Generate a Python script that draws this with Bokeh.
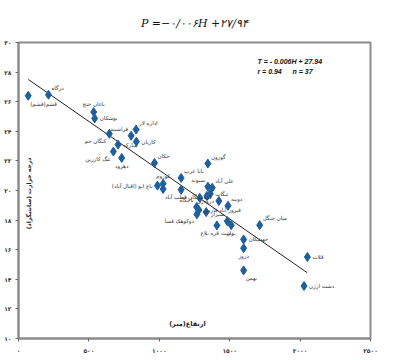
from bokeh.plotting import figure
from bokeh.models import ColumnDataSource, FixedTicker, Label
from bokeh.core.properties import value
from bokeh.embed import file_html
from bokeh.resources import INLINE
import math

# ---- data ----
stations = ["قشم(قشم)", "درگاه", "باغان خنج", "بوشکان", "کنگان جم", "مبارکه", "تنگ کارزین", "دهرود",
            "فراشبند", "اداره لار", "کاریان", "حکان", "گوزون", "بابا عرب", "کوزوم", "باغ ابو (اقبال آباد)",
            "کره بایگان قطب آباد", "", "سیوند", "علی آباد", "تنگاب", "", "", "درودزن", "دوبنه", "باجگاه",
            "فیروز آباد فارس", "", "دوکوهک فسا", "شیراز", "بزار", "دشت قره بلاغ", "جهشکان", "دروز",
            "میان جنگل", "بهمن", "قلات", "دشت ارژن"]
elevation = [69, 213, 534, 541, 645, 707, 674, 733,
             800, 835, 837, 966, 1345, 1155, 1027, 987,
             1027, 1155, 1345, 1376, 1362, 1338, 1288, 1423, 1488, 1265,
             1281, 1333, 1267, 1483, 1511, 1409, 1599, 1599,
             1713, 1599, 2052, 2028]
temperature = [26.4, 26.47, 25.3, 24.87, 23.83, 23.1, 22.63, 22.2,
               23.7, 24.12, 23.3, 21.86, 21.82, 20.85, 20.46, 20.33,
               20.1, 20.05, 20.26, 20.19, 19.78, 19.63, 19.5, 19.29, 18.97, 18.88,
               18.68, 18.54, 18.39, 17.93, 17.66, 17.64, 16.69, 16.1,
               17.66, 14.6, 15.51, 13.55]
trend_h = [70, 2050]
trend_t = [27.5, 14.45]
x_ticks = [0, 500, 1000, 1500, 2000, 2500]
y_ticks = [10, 12, 14, 16, 18, 20, 22, 24, 26, 28, 30]

# label placement (layout, not data)
placement = ["br", "tr", "t", "r", "bl", "r", "bl", "b",
             "tl", "tr", "r", "tr", "tr", "tr", "t", "l",
             "br", "r", "tl", "tr", "r", "r", "r", "l", "tr", "tl",
             "r", "r", "bl", "tl", "b", "b", "r", "b",
             "tr", "br", "r", "r"]

PD = str.maketrans("0123456789", "۰۱۲۳۴۵۶۷۸۹")
def fa(n):
    return str(n).translate(PD)

offs = {
    "r": (5, 0, "left", "middle"),
    "l": (-5, 0, "right", "middle"),
    "t": (0, -5, "center", "bottom"),
    "b": (0, 5, "center", "top"),
    "tr": (3, -4, "left", "bottom"),
    "tl": (-3, -4, "right", "bottom"),
    "br": (2, 5, "left", "top"),
    "bl": (-3, 4, "right", "top"),
}

src = ColumnDataSource(dict(
    x=elevation, y=temperature, name=stations,
    xo=[offs[k][0] for k in placement],
    yo=[offs[k][1] for k in placement],
    al=[offs[k][2] for k in placement],
    bl=[offs[k][3] for k in placement],
))

p = figure(width=388, height=356, output_backend="svg", toolbar_location=None,
           x_range=(0, 2500), y_range=(10, 30),
           title="P =−۰/۰۰۶H +۲۷/۹۴",
           min_border_left=18, min_border_right=18, min_border_top=42, min_border_bottom=18)
p.title.align = "center"
p.title.text_font = "DejaVu Serif"
p.title.text_font_style = "italic"
p.title.text_font_size = "11px"
p.title.text_color = "#111111"
p.title.offset = 0
p.title.standoff = 26
p.grid.visible = False
p.outline_line_color = "#8c8c8c"
p.outline_line_width = 2
p.background_fill_color = "white"
p.border_fill_color = "white"

for ax in (p.xaxis[0], p.yaxis[0]):
    ax.axis_line_color = "#8c8c8c"
    ax.axis_line_width = 2
    ax.major_tick_line_color = "#666666"
    ax.major_tick_out = 3
    ax.major_tick_in = 0
    ax.minor_tick_line_color = None
    ax.major_label_text_font = "DejaVu Sans"
    ax.major_label_text_font_size = "6px"
    ax.major_label_text_color = "#333333"
    ax.major_label_text_font_style = "bold"

p.xaxis.ticker = FixedTicker(ticks=x_ticks)
p.yaxis.ticker = FixedTicker(ticks=y_ticks)
p.xaxis.major_label_overrides = {t: fa(t) for t in x_ticks}
p.yaxis.major_label_overrides = {t: fa(t) for t in y_ticks}
p.xaxis.major_label_standoff = 5
p.yaxis.major_label_standoff = 4

p.line(trend_h, trend_t, line_color="#222222", line_width=1)
p.scatter("x", "y", source=src, marker="diamond", size=9,
          fill_color="#1f5f9c", line_color="#1f5f9c")
p.text("x", "y", text="name", source=src, x_offset="xo", y_offset="yo",
       text_align="al", text_baseline="bl", text_font=value("DejaVu Sans"),
       text_font_size="5.5px", text_color="#333333")

# regression annotation
p.add_layout(Label(x=1697, y=28.72, text="T = - 0.006H + 27.94", text_baseline="middle",
                   text_font="Liberation Sans", text_font_style="bold italic",
                   text_font_size="7px", text_color="#111111"))
p.add_layout(Label(x=1697, y=28.04, text="r = 0.94", text_baseline="middle",
                   text_font="Liberation Sans", text_font_style="bold italic",
                   text_font_size="7px", text_color="#111111"))
p.add_layout(Label(x=1946, y=28.04, text="n = 37", text_baseline="middle",
                   text_font="Liberation Sans", text_font_style="bold italic",
                   text_font_size="7px", text_color="#111111"))
# axis titles inside the frame
p.add_layout(Label(x=71, y=19.8, text="درجه حرارت (سانتیگراد)", angle=math.pi / 2,
                   text_align="center", text_baseline="middle", text_font="DejaVu Sans",
                   text_font_style="bold", text_font_size="6px", text_color="#222222"))
p.add_layout(Label(x=1200, y=11.0, text="ارتفاع(متر)", text_align="center",
                   text_baseline="middle", text_font="DejaVu Sans",
                   text_font_style="bold", text_font_size="6.5px", text_color="#222222"))

open("out.html", "w").write(file_html(p, INLINE))
